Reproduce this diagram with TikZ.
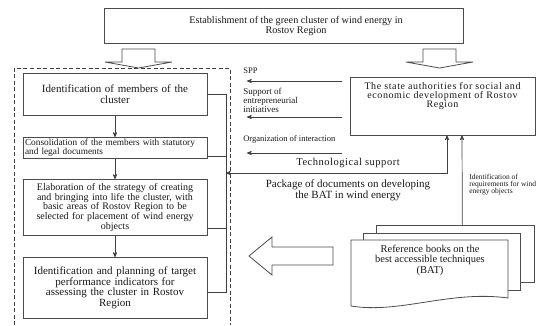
\documentclass[tikz,border=0pt]{standalone}
\usepackage{fontspec}
\setmainfont{Liberation Serif}
\usetikzlibrary{arrows,shapes,positioning}

\begin{document}
\begin{tikzpicture}[->,>=stealth',x=1pt,y=-1pt,line width=0.7pt,color=black!75]
\tikzstyle{every node}=[text=black!90]
\tikzstyle{box}=[draw=black!70,fill=white,align=center,inner sep=2pt]
\tikzstyle{stagebox}=[box,anchor=north,minimum width=184pt,text width=180pt]
\tikzstyle{lbl}=[inner sep=0pt,anchor=north west,align=left,font=\fontsize{8.5}{9}\selectfont]
\tikzstyle{block}=[draw=black!70,fill=white,line width=0.8pt]
\useasboundingbox (0,0) rectangle (554,325);

% top box and the two block arrows
\node[box,minimum width=359pt,minimum height=35pt] (estab) at (283.5,25.5) {};
\node[font=\fontsize{10.2}{10.5}\selectfont,align=center] (estabT) at (296,26)
  {Establishment of the green cluster of wind energy in\\Rostov Region};
\draw[-,block] (122,49) -- (155,49) -- (155,62) -- (172,62) -- (138.5,68) -- (105,62) -- (122,62) -- cycle;
\draw[-,block] (423,49) -- (456,49) -- (456,62) -- (473,62) -- (439.5,68) -- (406,62) -- (423,62) -- cycle;

% dashed group of stages
\draw[-,dash pattern=on 4pt off 2.5pt,line width=0.6pt] (14,325) -- (14,68) -- (230,68) -- (230,325);

\node[stagebox,minimum height=42pt,font=\fontsize{11}{10.5}\selectfont] (ident) at (115,73)
  {Identification of members of the\\cluster};
\node[stagebox,minimum height=21pt,inner ysep=1.5pt,align=left,font=\fontsize{9.3}{8.5}\selectfont] (cons) at (115,137)
  {Consolidation of the members with statutory\\and legal documents};
\node[stagebox,minimum height=56pt,font=\fontsize{10}{9.6}\selectfont] (elab) at (115,179)
  {Elaboration of the strategy of creating\\and bringing into life the cluster, with\\basic areas of Rostov Region to be\\selected for placement of wind energy\\objects};
\node[stagebox,minimum height=61pt,font=\fontsize{11}{10.8}\selectfont] (plan) at (115,257)
  {Identification and planning of target\\performance indicators for\\assessing the cluster in Rostov\\Region\\[9pt]};
\draw (ident) -- (cons);
\draw (cons) -- (elab);
\draw (elab) -- (plan);

% collecting line on the right of the stages
\coordinate (busTop) at (226,94);
\coordinate (busTech) at (226,173);
\draw[-] (ident.east) -- (ident.east -| busTop);
\draw[-] ([yshift=-8.5pt]cons.east) -- ([yshift=-8.5pt]cons.east -| busTop);
\draw[-] ([yshift=-21pt]elab.east) -- ([yshift=-21pt]elab.east -| busTop);
\draw[-] ([yshift=-4.5pt]plan.east) -- ([yshift=-4.5pt]plan.east -| busTop) -- (busTop);

% state authorities
\node[box,minimum width=185pt,minimum height=58pt] (state) at (442.5,106) {};
\node[font=\fontsize{10}{8.8}\selectfont\addfontfeature{LetterSpace=6},align=center,anchor=north] (stateT) at (442.5,79)
  {The state authorities for social and\\economic development of Rostov\\Region};

% support flows
\coordinate (sppR) at (342,81);  \coordinate (sppL) at (247,81);
\coordinate (supR) at (342,117); \coordinate (supL) at (247,117);
\coordinate (orgR) at (342,153); \coordinate (orgL) at (247,153);
\draw (sppR) -- (sppL);
\draw (supR) -- (supL);
\draw (orgR) -- (orgL);
\node[lbl] (sppT) at (243,68) {SPP};
\node[lbl,font=\fontsize{9}{9}\selectfont] (supT) at (243,87.5) {Support of\\entrepreneurial\\initiatives};
\node[lbl] (orgT) at (243,135) {Organization of interaction};
\node[font=\fontsize{10.5}{10.5}\selectfont\addfontfeature{LetterSpace=5},anchor=base] (techT) at (348,165.5) {Technological support};
\draw[<->] (busTech) -| ([xshift=4.5pt]state.south);
\node[font=\fontsize{11}{10.4}\selectfont,align=center,anchor=north] (packT) at (348,176.5)
  {Package of documents on developing\\the BAT in wind energy};

% reference books
\node[box,minimum width=158pt,minimum height=57pt,anchor=north west] (doc3) at (376,225) {};
\node[box,minimum width=157pt,minimum height=57pt,anchor=north west] (doc2) at (363,233) {};
\draw[-,block] (351,240) -- (508,240) -- (508,298) .. controls (450,290) and (400,314) .. (351,306) -- cycle;
\node[font=\fontsize{10.5}{10.4}\selectfont,align=center,anchor=north] (refT) at (430,241.5)
  {Reference books on the\\best accessible techniques\\(BAT)};
\draw ([xshift=7pt]doc3.north) -- ([xshift=19.5pt]state.south);
\node[lbl,font=\fontsize{7.5}{7.2}\selectfont] (reqT) at (469,173.5)
  {Identification of\\requirements for wind\\energy objects};

% package flow to the stages
\draw[-,block] (333,247) -- (272,247) -- (272,237) -- (249,256) -- (272,275) -- (272,265) -- (333,265) -- cycle;
\end{tikzpicture}
\end{document}
